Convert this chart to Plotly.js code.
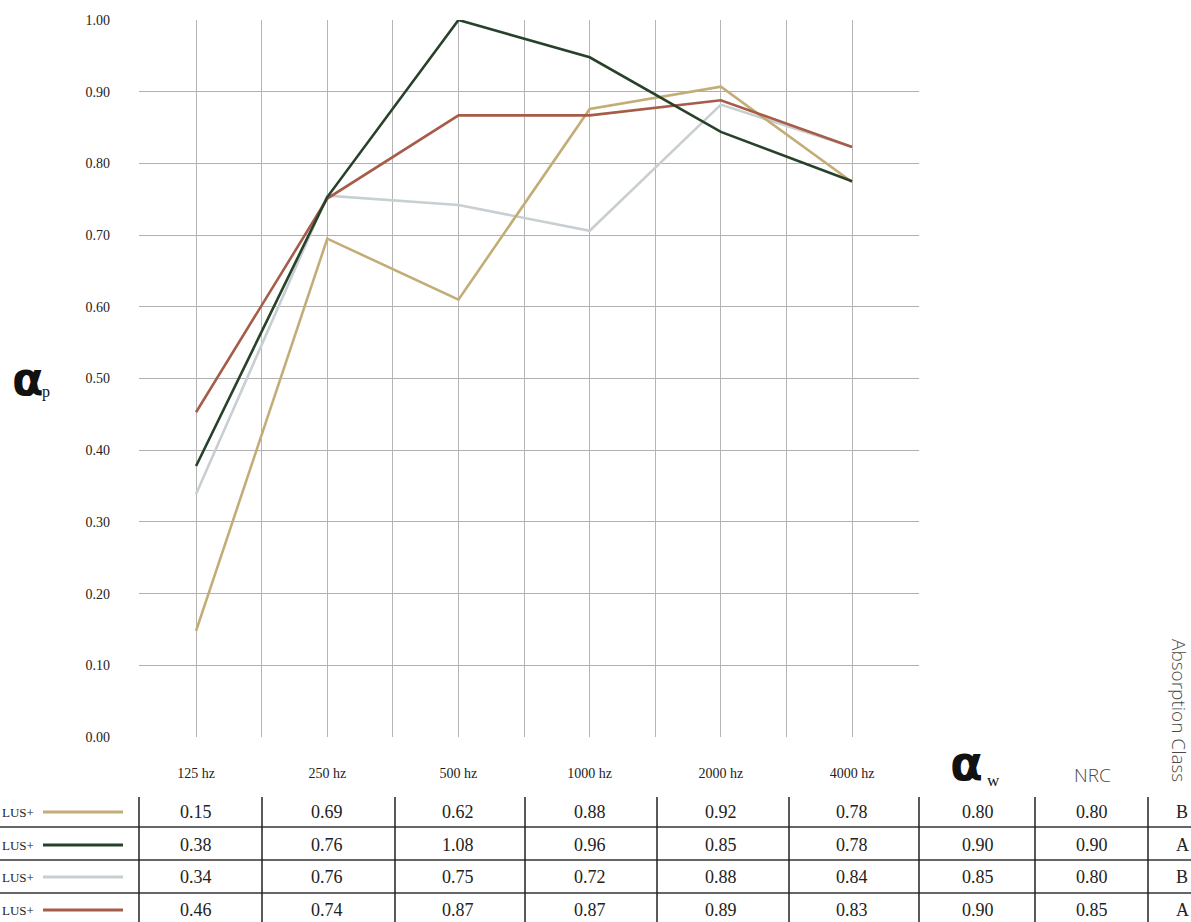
<!DOCTYPE html>
<html><head><meta charset="utf-8">
<script src="https://cdn.plot.ly/plotly-3.0.1.min.js"></script>
<style>html,body{margin:0;padding:0;background:#fff;overflow:hidden}#chart{width:1191px;height:922px;}</style>
</head><body><div id="chart"></div>
<script>
// ---- data ----
const categories = ['125 hz', '250 hz', '500 hz', '1000 hz', '2000 hz', '4000 hz'];
const seriesLabels = ['LUS+', 'LUS+', 'LUS+', 'LUS+'];
const seriesColors = ['#c3ad77', '#27412a', '#c8cfd2', '#a65c49'];
// curves as drawn
const curve1 = [0.148, 0.695, 0.610, 0.876, 0.907, 0.774];
const curve2 = [0.378, 0.753, 1.000, 0.948, 0.844, 0.775];
const curve3 = [0.339, 0.755, 0.742, 0.706, 0.882, 0.823];
const curve4 = [0.453, 0.751, 0.867, 0.867, 0.888, 0.823];
// table values
const table1 = ['0.15', '0.69', '0.62', '0.88', '0.92', '0.78'];
const table2 = ['0.38', '0.76', '1.08', '0.96', '0.85', '0.78'];
const table3 = ['0.34', '0.76', '0.75', '0.72', '0.88', '0.84'];
const table4 = ['0.46', '0.74', '0.87', '0.87', '0.89', '0.83'];
const alphaW = ['0.80', '0.90', '0.85', '0.90'];
const nrc = ['0.80', '0.90', '0.80', '0.85'];
const absClass = ['B', 'A', 'B', 'A'];
const yTickVals = [0, 0.1, 0.2, 0.3, 0.4, 0.5, 0.6, 0.7, 0.8, 0.9, 1.0];
const yTickText = ['0.00', '0.10', '0.20', '0.30', '0.40', '0.50', '0.60', '0.70', '0.80', '0.90', '1.00'];
const yGridVals = [0.1, 0.2, 0.3, 0.4, 0.5, 0.6, 0.7, 0.8, 0.9];

// ---- layout helpers ----
const W = 1191, H = 922, ML = 139, MR = 272, MT = 20, MB = 0;
const PW = W - ML - MR, PH = H - MT - MB;
const px = x => (x - ML) / PW;
const py = y => (H - MB - y) / PH;
const plotBottomPx = 737;
const serif = 'Liberation Serif, DejaVu Serif, serif';
const sans = 'Open Sans, Noto Sans, sans-serif';

const curves = [curve1, curve2, curve3, curve4];
const tables = [table1, table2, table3, table4];
const xPos = categories.map((c, i) => 2 * i);
const drawOrder = [2, 0, 3, 1];

const traces = drawOrder.map(k => ({
  type: 'scatter', mode: 'lines', x: xPos, y: curves[k],
  name: seriesLabels[k] + ' ' + (k + 1),
  line: {color: seriesColors[k], width: 2.6},
  hoverinfo: 'skip', showlegend: false, xaxis: 'x', yaxis: 'y'
}));
traces.unshift({type: 'scatter', mode: 'none', x: [0], y: [0.5], xaxis: 'x', yaxis: 'y2', showlegend: false, hoverinfo: 'skip'});

const xTickVals = [], xTickText = [];
for (let i = 0; i <= 10; i++) { xTickVals.push(i); xTickText.push(i % 2 === 0 ? categories[i / 2] : ''); }

const annotations = [];
const shapes = [];
const cellFont = {family: serif, size: 18, color: '#222'};
const ann = (x, y, text, font, extra) => Object.assign({xref: 'paper', yref: 'paper', x: px(x), y: py(y), text: text, showarrow: false,
  xanchor: 'center', yanchor: 'middle', font: font}, extra || {});
const rowY = [812, 845, 877, 910];
const colW = 978, colN = 1092, colC = 1182;
rowY.forEach((y, r) => {
  tables[r].forEach((v, j) => annotations.push({xref: 'x', yref: 'paper', x: xPos[j], y: py(y), text: v, showarrow: false,
    font: cellFont, xanchor: 'center', yanchor: 'middle'}));
  annotations.push(ann(colW, y, alphaW[r], cellFont));
  annotations.push(ann(colN, y, nrc[r], cellFont));
  annotations.push(ann(colC, y, absClass[r], cellFont));
  annotations.push(ann(36, y, seriesLabels[r], {family: serif, size: 13, color: '#222'}, {xanchor: 'right'}));
  shapes.push({type: 'line', xref: 'paper', yref: 'paper', x0: px(43), x1: px(123), y0: py(y), y1: py(y),
    line: {color: seriesColors[r], width: 3}});
});
[827, 860, 893].forEach(y => shapes.push({type: 'line', xref: 'paper', yref: 'paper', x0: px(0), x1: px(W), y0: py(y), y1: py(y), line: {color: '#333', width: 1.5}}));
[139, 262, 395, 525, 657, 789, 919, 1035, 1148].forEach(x => shapes.push({type: 'line', xref: 'paper', yref: 'paper', x0: px(x), x1: px(x), y0: py(797), y1: py(H), line: {color: '#222', width: 1.5}}));

// headers
annotations.push(ann(10, 379, '<b>α</b>', {family: 'DejaVu Sans, sans-serif', size: 46, color: '#111'}, {xanchor: 'left'}));
annotations.push(ann(40, 392, 'p', {family: serif, size: 16, color: '#111'}, {xanchor: 'left'}));
annotations.push(ann(948, 763, '<b>α</b>', {family: 'DejaVu Sans, sans-serif', size: 48, color: '#111'}, {xanchor: 'left'}));
annotations.push(ann(985, 780, 'w', {family: serif, size: 17, color: '#111'}, {xanchor: 'left'}));
annotations.push(ann(colN, 775, 'NRC', {family: sans, size: 19, color: '#4a4a4a', weight: 300}));
annotations.push(ann(1179, 710, 'Absorption Class', {family: sans, size: 19, color: '#4a4a4a', weight: 300}, {textangle: 90}));

const yDomain = [py(plotBottomPx), 1];
const layout = {
  width: W, height: H,
  margin: {l: ML, r: MR, t: MT, b: MB, pad: 0},
  paper_bgcolor: '#fff', plot_bgcolor: 'rgba(0,0,0,0)',
  showlegend: false,
  font: {family: serif, color: '#222'},
  xaxis: {range: [-0.87, 11.02], tickmode: 'array', tickvals: xTickVals, ticktext: xTickText,
    showgrid: true, gridcolor: '#b5b5b5', gridwidth: 1, zeroline: false, showline: false, ticks: '',
    ticklabelstandoff: 26, tickfont: {family: serif, size: 14, color: '#222'}, anchor: 'y', fixedrange: true},
  yaxis: {domain: yDomain, range: [0, 1], tickmode: 'array', tickvals: yTickVals, ticktext: yTickText,
    showgrid: false, zeroline: false, showline: false, ticks: '', ticklabelstandoff: 28,
    tickfont: {family: serif, size: 14, color: '#222'}, fixedrange: true},
  yaxis2: {domain: yDomain, range: [0, 1], overlaying: 'y', tickmode: 'array', tickvals: yGridVals,
    showticklabels: false, showgrid: true, gridcolor: '#b0b0b0', gridwidth: 1, zeroline: false, showline: false, ticks: '', fixedrange: true},
  annotations: annotations,
  shapes: shapes
};
Plotly.newPlot('chart', traces, layout, {displayModeBar: false, staticPlot: true});
</script>
</body></html>
